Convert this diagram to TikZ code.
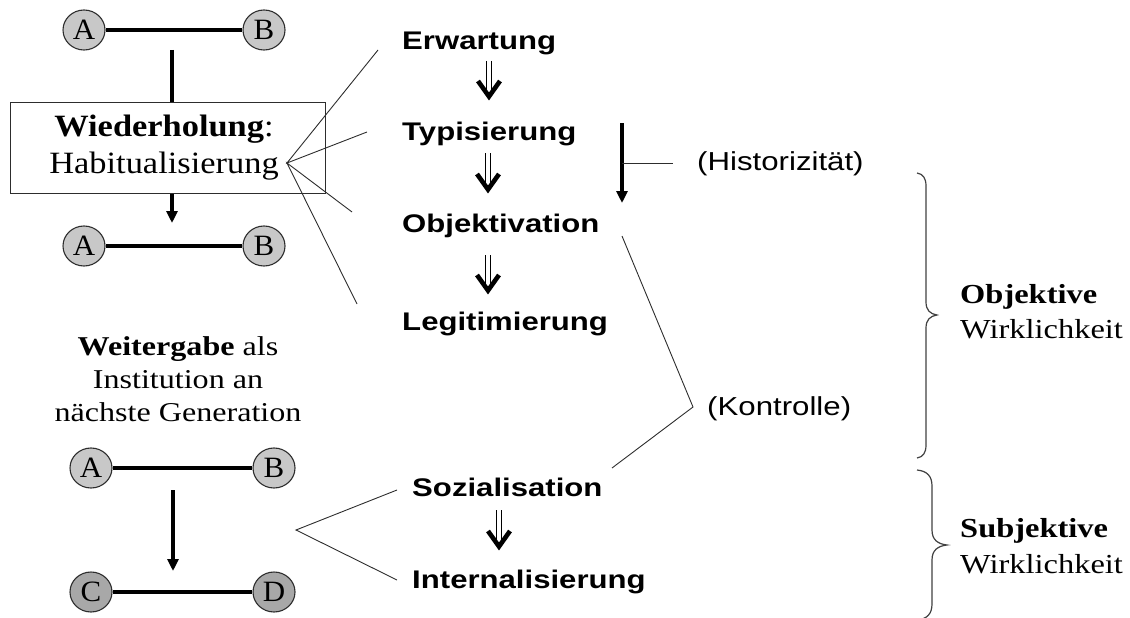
\documentclass[tikz,border=0pt]{standalone}
\usepackage{fontspec}
\setmainfont{Liberation Serif}
\setsansfont{Liberation Sans}
\usetikzlibrary{arrows.meta}
\definecolor{discA}{RGB}{200,200,200}
\definecolor{discC}{RGB}{168,168,168}
\definecolor{ink}{RGB}{45,45,45}

% double-shafted step arrow: from coordinate #1 down to its tip #2
\newcommand\stepdown[2]{%
  \draw[line width=0.9pt] ([xshift=-2.2pt]#1) -- ([xshift=-2.2pt,yshift=9pt]#2);
  \draw[line width=0.9pt] ([xshift=2.2pt]#1) -- ([xshift=2.2pt,yshift=9pt]#2);
  \draw[line width=4.6pt] ([xshift=-11pt,yshift=19pt]#2) -- ([yshift=3.5pt]#2) -- ([xshift=11pt,yshift=19pt]#2);
}

\begin{document}
\begin{tikzpicture}[x=1pt,y=-1pt,
  proc/.style={font=\sffamily\bfseries\fontsize{25.5}{30}\selectfont, xscale=1.22, anchor=base west, inner sep=0pt},
  remark/.style={font=\sffamily\fontsize{26}{30}\selectfont, xscale=1.2, anchor=base west, inner sep=0pt},
  rside/.style={font=\fontsize{27.5}{33}\selectfont, xscale=1.18, anchor=base west, inner sep=0pt},
  lside/.style={font=\fontsize{27.2}{33}\selectfont, xscale=1.18, anchor=base, inner sep=0pt},
  boxtext/.style={font=\fontsize{31}{36}\selectfont, xscale=1.11, anchor=base, inner sep=0pt},
  disc/.style={circle, draw=ink, line width=1.1pt, fill=discA, minimum size=40pt, inner sep=0pt, xscale=1.05, font=\fontsize{29.5}{30}\selectfont},
  darkdisc/.style={disc, fill=discC},
  link/.style={line width=3.5pt},
  flow/.style={line width=3.5pt, -{Triangle[length=12pt,width=11pt]}},
  thinline/.style={line width=0.9pt, draw=ink},
  bracket/.style={line width=1.2pt, draw=black!75}
]
\useasboundingbox (0,0) rectangle (1130,618);

% ---- left column: pairs and repetition ----
\node[disc] (a1) at (84,30) {A};
\node[disc] (b1) at (264,30) {B};
\draw[link] (a1) -- (b1);

\node[draw=ink, line width=1pt, minimum width=315pt, minimum height=91pt, inner sep=0pt] (box) at (167.5,147.5) {};
\node[boxtext] (wied) at (164,136.7) {\textbf{Wiederholung}:};
\node[boxtext] (habit) at (164,173.3) {Habitualisierung};

\coordinate (t0) at (172,50);
\draw[link] (t0) -- (t0 |- box.north);
\coordinate (t1) at (172,223);
\draw[flow] (t0 |- box.south) -- (t1);

\node[disc] (a2) at (84,246) {A};
\node[disc] (b2) at (264,246) {B};
\draw[link] (a2) -- (b2);

\node[lside] (weit1) at (178,355) {\textbf{Weitergabe} als};
\node[lside] (weit2) at (178,388.5) {Institution an};
\node[lside] (weit3) at (178,421.7) {nächste Generation};

\node[disc] (a3) at (91,468) {A};
\node[disc] (b3) at (274,468) {B};
\draw[link] (a3) -- (b3);
\coordinate (g0) at (173,490);
\coordinate (g1) at (173,571);
\draw[flow] (g0) -- (g1);
\node[darkdisc] (c4) at (91,592) {C};
\node[darkdisc] (d4) at (274,592) {D};
\draw[link] (c4) -- (d4);

% ---- middle column: stages ----
\node[proc] (erw) at (402,50) {Erwartung};
\node[proc] (typ) at (402,140.5) {Typisierung};
\node[proc] (obj) at (402,232) {Objektivation};
\node[proc] (leg) at (402,330) {Legitimierung};
\node[proc] (soz) at (412,496.7) {Sozialisation};
\node[proc] (int) at (412,588) {Internalisierung};

\coordinate (s1a) at (489,61);  \coordinate (s1b) at (489,100);
\coordinate (s2a) at (488,153); \coordinate (s2b) at (488,193);
\coordinate (s3a) at (488,255); \coordinate (s3b) at (488,294);
\coordinate (s4a) at (499,510); \coordinate (s4b) at (499,550);
\stepdown{s1a}{s1b}
\stepdown{s2a}{s2b}
\stepdown{s3a}{s3b}
\stepdown{s4a}{s4b}

% fan from habitualisation to the first four stages
\coordinate (fan) at (287,163);
\coordinate (f1) at (378,50);
\coordinate (f2) at (367,132);
\coordinate (f3) at (352,212);
\coordinate (f4) at (357,304);
\draw[thinline] (f1) -- (fan) -- (f2);
\draw[thinline] (f3) -- (fan) -- (f4);

% fan from transmission to socialisation and internalisation
\coordinate (fan2) at (296,530);
\coordinate (h1) at (397,490);
\coordinate (h2) at (397,580);
\draw[thinline] (h1) -- (fan2) -- (h2);

% ---- historicity ----
\coordinate (hx0) at (622,123);
\coordinate (hx1) at (622,203);
\draw[flow] (hx0) -- (hx1);
\node[remark] (hist) at (697,170.5) {(Historizität)};
\coordinate (hm) at (622,163);
\draw[thinline] (hm) -- (673,163);

% ---- control ----
\node[remark] (kon) at (707,415) {(Kontrolle)};
\coordinate (k0) at (622,236);
\coordinate (k1) at (693,407);
\coordinate (k2) at (612,468);
\draw[thinline] (k0) -- (k1) -- (k2);

% ---- braces and realities ----
\draw[bracket] (917,173) .. controls (923,174) and (926,178) .. (926,186) -- (926,302)
  .. controls (926,310) and (930,314) .. (937,315)
  .. controls (930,316) and (926,320) .. (926,328) -- (926,445)
  .. controls (926,453) and (923,457) .. (917,458);
\draw[bracket] (917,470) .. controls (927,471) and (932,476) .. (932,486) -- (932,530)
  .. controls (932,540) and (938,544) .. (947,545)
  .. controls (938,546) and (932,550) .. (932,560) -- (932,604)
  .. controls (932,614) and (927,619) .. (917,620);

\node[rside] (objt) at (960,303) {\textbf{Objektive}};
\node[rside] (objw) at (960,338.5) {Wirklichkeit};
\node[rside] (subt) at (960,537) {\textbf{Subjektive}};
\node[rside] (subw) at (960,573) {Wirklichkeit};
\end{tikzpicture}
\end{document}
